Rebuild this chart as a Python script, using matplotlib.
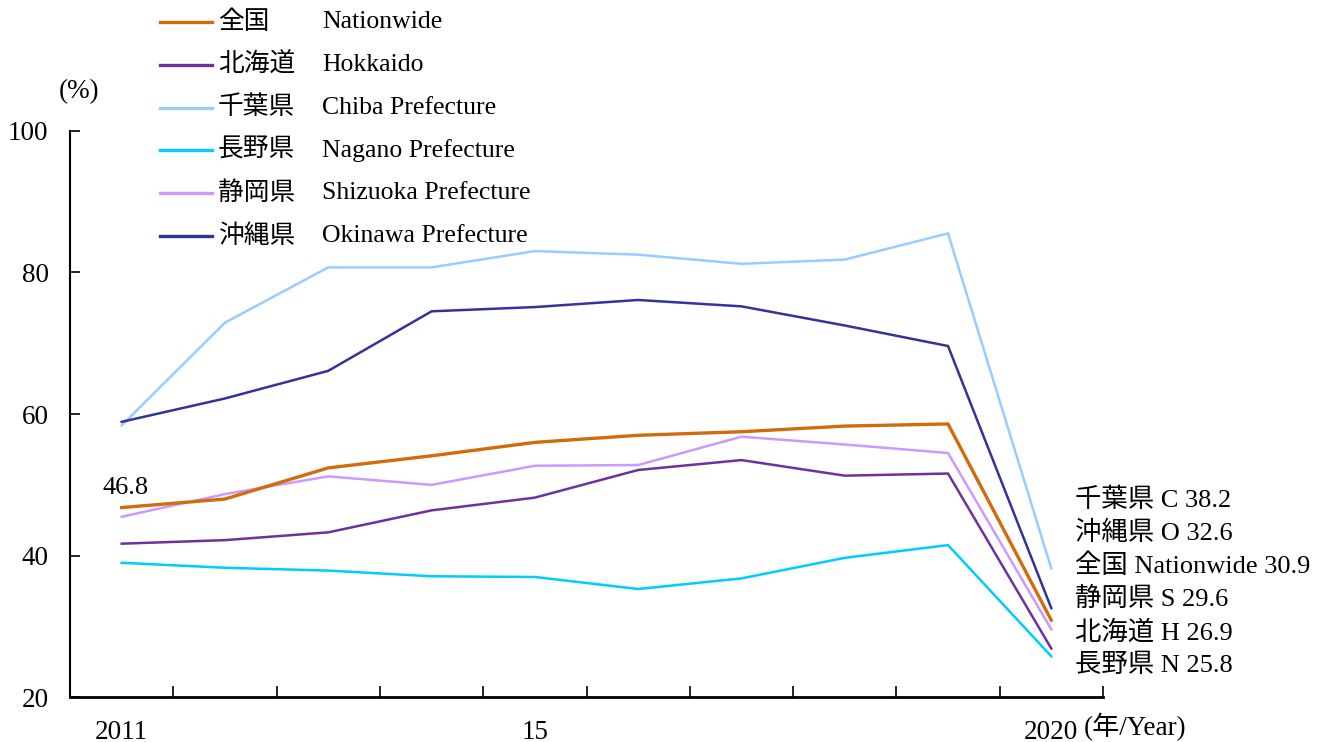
import matplotlib.pyplot as plt
from matplotlib.lines import Line2D

plt.rcParams['font.family'] = ['Liberation Serif', 'Noto Sans CJK JP']

years = list(range(2011, 2021))

nationwide = [46.8, 48.0, 52.4, 54.1, 56.0, 57.0, 57.5, 58.3, 58.6, 30.9]
hokkaido = [41.7, 42.2, 43.3, 46.4, 48.2, 52.1, 53.5, 51.3, 51.6, 26.9]
chiba = [58.4, 72.9, 80.7, 80.7, 83.0, 82.5, 81.2, 81.8, 85.5, 38.2]
nagano = [39.0, 38.3, 37.9, 37.1, 37.0, 35.3, 36.8, 39.7, 41.5, 25.8]
shizuoka = [45.5, 48.7, 51.2, 50.0, 52.7, 52.8, 56.8, 55.7, 54.5, 29.6]
okinawa = [58.9, 62.2, 66.1, 74.5, 75.1, 76.1, 75.2, 72.5, 69.6, 32.6]

jp_names = ['全国', '北海道', '千葉県', '長野県', '静岡県', '沖縄県']
en_names = ['Nationwide', 'Hokkaido', 'Chiba Prefecture', 'Nagano Prefecture',
            'Shizuoka Prefecture', 'Okinawa Prefecture']
short = ['Nationwide', 'H', 'C', 'N', 'S', 'O']
series = [nationwide, hokkaido, chiba, nagano, shizuoka, okinawa]
colors = ['#d06c0c', '#7030a0', '#99ccff', '#00ccff', '#cc99ff', '#333399']
widths = [2.4, 1.8, 1.8, 1.8, 1.8, 1.8]

fig = plt.figure(figsize=(13.22, 7.42), dpi=100)
ax = fig.add_axes([0.053, 0.0601, 0.7813, 0.7638])

# draw order: nationwide on top
for i in [3, 1, 4, 2, 5, 0]:
    ax.plot(years, series[i], color=colors[i], lw=widths[i], solid_joinstyle='miter')

ax.set_xlim(2010.5, 2020.5)
ax.set_ylim(20, 100)
ax.set_yticks([20, 40, 60, 80, 100])
ax.tick_params(axis='y', direction='in', length=7, width=1.2, labelsize=19.5, pad=15.5)
ax.set_xticks([2011, 2015, 2020])
ax.set_xticklabels(['2011', '15', '2020'])
ax.set_xticks([y + 0.5 for y in years], minor=True)
ax.tick_params(axis='x', which='major', length=0, labelsize=19.5, pad=16)
ax.tick_params(axis='x', which='minor', direction='in', length=8, width=1.2)
for s in ['top', 'right']:
    ax.spines[s].set_visible(False)
ax.spines['left'].set_linewidth(1.5)
ax.spines['bottom'].set_linewidth(2)

fig.text(1084 / 1322, 1 - 727 / 742, '(年/Year)', fontsize=19.5, ha='left', va='center')
fig.text(79 / 1322, 1 - 92 / 742, '(%)', fontsize=19.5, ha='center', va='center')

ax.annotate(f'{nationwide[0]}', xy=(years[0], nationwide[0]), xytext=(4, 20),
            textcoords='offset pixels', ha='center', va='center', fontsize=19)

# right-hand end labels, sorted by final value
order = sorted(range(6), key=lambda k: -series[k][-1])
for n, k in enumerate(order):
    ax.text(0.973, 0.348 - n * 0.0582, f'{jp_names[k]} {short[k]} {series[k][-1]}',
            transform=ax.transAxes, fontsize=19, ha='left', va='center')

# legend
for i in range(6):
    yy = 1 - (22 + i * 42.8) / 742
    fig.add_artist(Line2D([160 / 1322, 212 / 1322], [yy, yy], color=colors[i],
                          lw=2.4, transform=fig.transFigure))
    fig.text(218 / 1322, yy, jp_names[i], fontsize=18.5, ha='left', va='center')
    fig.text(322 / 1322, yy, en_names[i], fontsize=18.5, ha='left', va='center')

fig.savefig('out.png', dpi=100)
